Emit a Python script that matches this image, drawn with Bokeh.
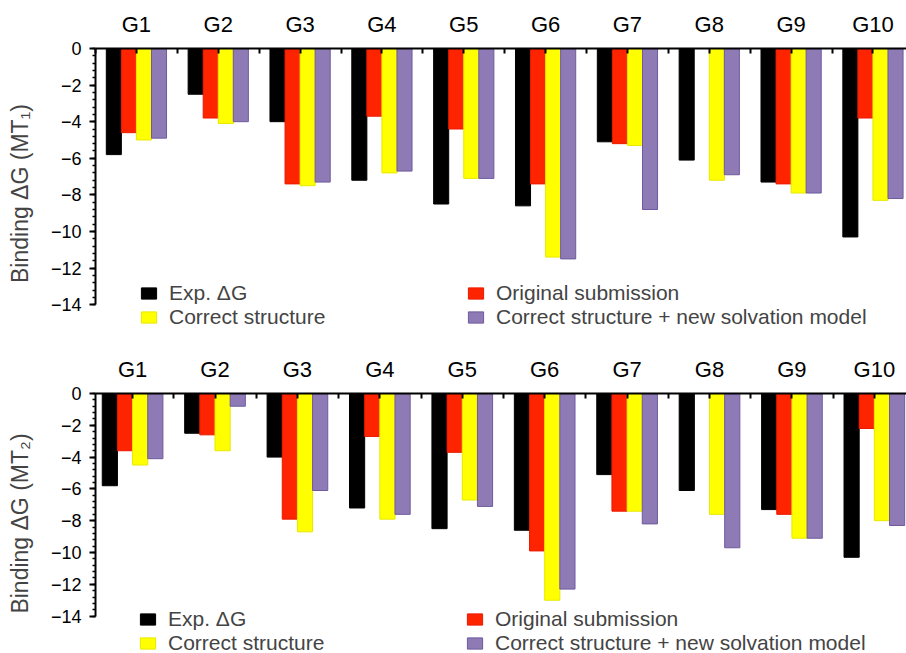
from bokeh.plotting import figure
from bokeh.layouts import column
from bokeh.models import ColumnDataSource, FixedTicker, Legend, LegendItem
from bokeh.transform import dodge
from bokeh.embed import file_html
from bokeh.resources import INLINE

nan = float("nan")

groups = ["G1", "G2", "G3", "G4", "G5", "G6", "G7", "G8", "G9", "G10"]
group_idx = [1, 2, 3, 4, 5, 6, 7, 8, 9, 10]

exp_dg = [-5.8, -2.5, -4.0, -7.2, -8.5, -8.6, -5.1, -6.1, -7.3, -10.3]

mt1_original = [-4.6, -3.8, -7.4, -3.7, -4.4, -7.4, -5.2, nan, -7.4, -3.8]
mt1_correct = [-5.0, -4.1, -7.5, -6.8, -7.1, -11.4, -5.3, -7.2, -7.9, -8.3]
mt1_new_solv = [-4.9, -4.0, -7.3, -6.7, -7.1, -11.5, -8.8, -6.9, -7.9, -8.2]

mt2_original = [-3.6, -2.6, -7.9, -2.7, -3.7, -9.9, -7.4, nan, -7.6, -2.2]
mt2_correct = [-4.5, -3.6, -8.7, -7.9, -6.7, -13.0, -7.4, -7.6, -9.1, -8.0]
mt2_new_solv = [-4.1, -0.8, -6.1, -7.6, -7.1, -12.3, -8.2, -9.7, -9.1, -8.3]

y_ticks = [0, -2, -4, -6, -8, -10, -12, -14]
y_minor = [-0.4 * k for k in range(36)]

labels = ["Exp. \u0394G", "Original submission", "Correct structure",
          "Correct structure + new solvation model"]

FONT = "Liberation Sans"
W = 0.184


def make_panel(orig, corr, new, sub, height, top_border, left_border, y_bottom, legend_y,
               x_start, x_end, lx1, lx2, tick_standoff, label_standoff):
    src = ColumnDataSource(dict(x=group_idx, exp=exp_dg, orig=orig, corr=corr, new=new))
    p = figure(width=906, height=height, x_range=(x_start, x_end), y_range=(y_bottom, 0),
               x_axis_location="above", output_backend="svg", toolbar_location=None,
               min_border_left=left_border, min_border_right=0,
               min_border_top=top_border, min_border_bottom=0)
    p.outline_line_color = None
    p.xgrid.visible = False
    p.ygrid.visible = False
    p.background_fill_color = "white"

    r_exp = p.vbar(x=dodge("x", -1.5 * W), top="exp", bottom=0, width=W, source=src,
                   fill_color="#000000", line_color="#000000")
    r_orig = p.vbar(x=dodge("x", -0.5 * W), top="orig", bottom=0, width=W, source=src,
                    fill_color="#ff2400", line_color="#e81a00")
    r_corr = p.vbar(x=dodge("x", 0.5 * W), top="corr", bottom=0, width=W, source=src,
                    fill_color="#ffff00", line_color="#e8e800")
    r_new = p.vbar(x=dodge("x", 1.5 * W), top="new", bottom=0, width=W, source=src,
                   fill_color="#8e7bb6", line_color="#6e5a9e")

    xa = p.xaxis[0]
    xa.ticker = FixedTicker(ticks=group_idx, minor_ticks=[k + 0.5 for k in range(11)])
    xa.major_label_overrides = {i: g for i, g in zip(group_idx, groups)}
    xa.major_label_text_font = FONT
    xa.major_label_text_font_size = "22px"
    xa.major_label_text_color = "black"
    xa.major_label_standoff = 12
    xa.major_tick_in = 5
    xa.major_tick_out = 0
    xa.minor_tick_in = 5
    xa.minor_tick_out = 0
    xa.axis_line_width = 2
    xa.major_tick_line_width = 2
    xa.minor_tick_line_width = 2

    ya = p.yaxis[0]
    ya.ticker = FixedTicker(ticks=y_ticks, minor_ticks=y_minor)
    ya.bounds = (-14, 0)
    ya.major_label_text_font = FONT
    ya.major_label_text_font_size = "18px"
    ya.major_label_text_color = "black"
    ya.major_label_standoff = tick_standoff
    ya.major_tick_in = 0
    ya.major_tick_out = 6
    ya.minor_tick_in = 0
    ya.minor_tick_out = 3
    ya.axis_line_width = 2
    ya.major_tick_line_width = 2
    ya.minor_tick_line_width = 1.5
    ya.axis_label = "Binding \u0394G (MT" + sub + ")"
    ya.axis_label_text_font = FONT
    ya.axis_label_text_font_style = "normal"
    ya.axis_label_text_font_size = "23px"
    ya.axis_label_standoff = label_standoff

    def mk_legend(items, x):
        lg = Legend(items=items, location=(x, legend_y), padding=0, margin=0,
                    border_line_color=None, background_fill_alpha=0,
                    label_text_font=FONT, label_text_font_size="21px",
                    glyph_width=19, glyph_height=14, label_standoff=11,
                    spacing=0, label_height=20)
        return lg

    lg1 = mk_legend([LegendItem(label=labels[0], renderers=[r_exp]),
                     LegendItem(label=labels[2], renderers=[r_corr])], lx1)
    lg2 = mk_legend([LegendItem(label=labels[1], renderers=[r_orig]),
                     LegendItem(label=labels[3], renderers=[r_new])], lx2)
    p.add_layout(lg1)
    p.add_layout(lg2)
    return p


top = make_panel(mt1_original, mt1_correct, mt1_new_solv, "\u2081",
                 height=338, top_border=48, left_border=95, y_bottom=-15.85,
                 legend_y=9, x_start=0.5, x_end=10.41, lx1=44, lx2=371,
                 tick_standoff=8, label_standoff=15)
bottom = make_panel(mt2_original, mt2_correct, mt2_new_solv, "\u2082",
                    height=315, top_border=55, left_border=91, y_bottom=-16.35,
                    legend_y=-2, x_start=0.55, x_end=10.39, lx1=43, lx2=370,
                    tick_standoff=8, label_standoff=15)

layout = column(top, bottom, spacing=0)
open("out.html", "w").write(file_html(layout, INLINE))
